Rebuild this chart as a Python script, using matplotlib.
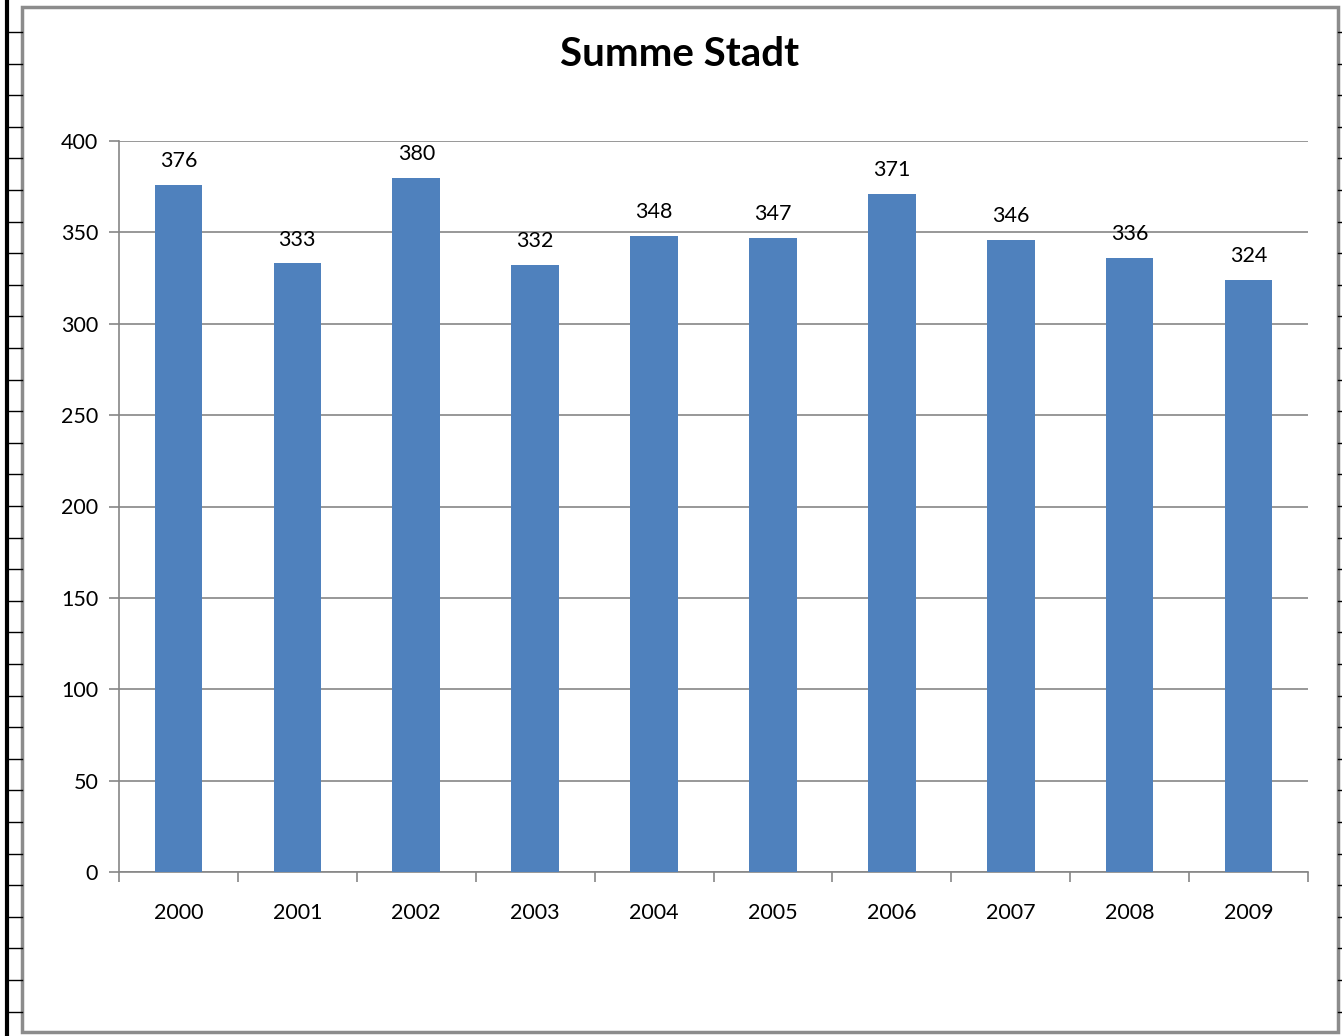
import numpy as np
import matplotlib.pyplot as plt
from matplotlib.patches import Rectangle
from matplotlib.lines import Line2D

years = ['2000', '2001', '2002', '2003', '2004', '2005', '2006', '2007', '2008', '2009']
values = [376, 333, 380, 332, 348, 347, 371, 346, 336, 324]
yticks = [0, 50, 100, 150, 200, 250, 300, 350, 400]

plt.rcParams['font.family'] = ['Lato', 'DejaVu Sans']

W, H = 1342, 1036
fig = plt.figure(figsize=(W / 100, H / 100), dpi=100)

# spreadsheet cell edges behind the chart (left column line and row marks)
fig.lines.append(Line2D([7/W, 7/W], [0, 1], transform=fig.transFigure,
                        color='black', linewidth=3))
for yy in np.arange(32, H, 31.6):
    fig.lines.append(Line2D([7/W, 22/W], [1 - yy/H, 1 - yy/H],
                            transform=fig.transFigure, color='black', linewidth=1))
    fig.lines.append(Line2D([1338/W, 1342/W], [1 - yy/H, 1 - yy/H],
                            transform=fig.transFigure, color='black', linewidth=1))

# chart frame
fig.patches.append(Rectangle((22/W, 4/H), 1316/W, 1025/H,
                             transform=fig.transFigure, fill=False,
                             edgecolor='#8c8c8c', linewidth=2.5))

ax = fig.add_axes([119/W, 164/H, 1189/W, 731/H])
x = np.arange(len(years))
ax.bar(x, values, width=0.4, color='#4f81bd', zorder=3)

for xi, v in zip(x, values):
    ax.annotate(str(v), (xi, v), xytext=(0, 10), textcoords='offset points',
                ha='center', va='bottom', fontsize=15.5)

ax.set_xlim(-0.5, len(years) - 0.5)
ax.set_ylim(0, 400)
ax.set_yticks(yticks)
ax.yaxis.grid(True, color='#868686', linewidth=1.2, zorder=0)

# ticks at category boundaries, labels centred
ax.set_xticks(np.arange(-0.5, len(years)))
ax.set_xticklabels([])
ax.set_xticks(x, minor=True)
ax.set_xticklabels(years, minor=True, fontsize=15.5)
ax.tick_params(axis='x', which='major', length=7, color='#868686', width=1.2)
ax.tick_params(axis='x', which='minor', length=0, pad=22)
ax.tick_params(axis='y', length=7, color='#868686', width=1.2, labelsize=15.5, pad=8)

for s in ['top', 'right']:
    ax.spines[s].set_visible(False)
for s in ['left', 'bottom']:
    ax.spines[s].set_color('#868686')
    ax.spines[s].set_linewidth(1.2)

fig.text(680/W, 1 - 55/H, 'Summe Stadt', ha='center', va='center',
         fontsize=29, fontweight='bold')

plt.savefig('out.png', dpi=100)
